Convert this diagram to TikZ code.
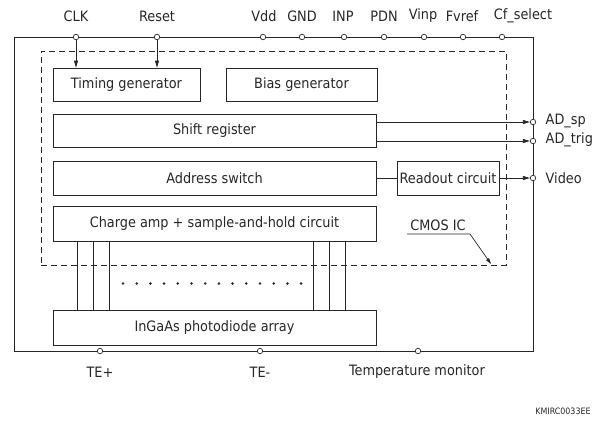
\documentclass[tikz,border=0pt]{standalone}
\usepackage{fontspec}
\setmainfont{DejaVu Sans Condensed}
\usetikzlibrary{arrows.meta,calc}
\begin{document}
\begin{tikzpicture}[x=1pt,y=-1pt,
  line width=0.8pt, color=black!85,
  every node/.style={font=\fontsize{14.3}{16}\selectfont, text=black!85},
  box/.style={draw, line width=0.8pt, inner sep=0pt},
  pin/.style={circle, draw, fill=white, inner sep=0pt, minimum size=5.5pt, line width=0.7pt},
  arr/.style={-{Triangle[length=7pt,width=4pt]}},
  dashbox/.style={draw, dash pattern=on 6pt off 4pt, line width=0.7pt, inner sep=0pt}
]
\useasboundingbox (0,0) rectangle (609,434);
% outer box
\coordinate (otl) at (14,37);
\coordinate (obr) at (533,351);
\draw (otl) rectangle (obr);
% dashed CMOS region
\node[dashbox, minimum width=465pt, minimum height=214pt] (cmos) at (273.5,158) {};
% blocks
\node[box, minimum width=147pt, minimum height=33pt] (tg) at (126.5,84.5) {Timing generator};
\node[box, minimum width=151pt, minimum height=33pt] (bg) at (301.5,84.5) {Bias generator};
\node[box, minimum width=323pt, minimum height=33pt] (sr) at (214.5,130.5) {Shift register};
\node[box, minimum width=323pt, minimum height=34pt] (as) at (214.5,178) {Address switch};
\node[box, minimum width=102pt, minimum height=34pt] (ro) at (448,178) {Readout circuit};
\node[box, minimum width=323pt, minimum height=35pt] (ca) at (214.5,223.5) {Charge amp + sample-and-hold circuit};
\node[box, minimum width=323pt, minimum height=35pt] (pd) at (214.5,327.5) {InGaAs photodiode array};
% top pins
\foreach \n/\x/\lx/\t in {clk/76/76/CLK, rst/157/157/Reset, vdd/263/264/Vdd, gnd/302/302/GND, inp/344/343/INP, pdn/384/384/PDN, vinp/424/423/Vinp, fvref/463/462/Fvref, cfs/502/523/Cf\_select}{
  \node[pin] (p\n) at (\x,37) {};
  \node (l\n) at (\lx,16) {\t};
}
% arrows into timing generator
\draw[arr] (pclk) -- (pclk |- tg.north);
\draw[arr] (prst) -- (prst |- tg.north);
% right pins
\node[pin] (psp) at (533,122) {};
\node[pin] (ptrig) at (533,141) {};
\node[pin] (pvid) at (533,178) {};
\node[anchor=west] (lsp) at (542,121) {AD\_sp};
\node[anchor=west] (ltrig) at (542,140) {AD\_trig};
\node[anchor=west] (lvid) at (542,178) {Video};
\draw[arr] (sr.east |- psp) -- (psp);
\draw[arr] (sr.east |- ptrig) -- (ptrig);
\draw (as.east) -- (ro.west);
\draw[arr] (ro.east) -- (pvid);
% bottom pins
\node[pin] (pte1) at (100,351) {};
\node[pin] (pte2) at (260,351) {};
\node[pin] (ptm) at (418,351) {};
\node (lte1) at (100,372) {TE+};
\node (lte2) at (260,372) {TE-};
\node (ltm) at (417,372) {Temperature monitor};
% connections charge amp -> photodiode array
\foreach \x in {78,94,110,314,330,346}{
  \draw ($(ca.south west)+(\x-53,0)$) -- ($(pd.north west)+(\x-53,0)$);
}
% dots
\foreach \i in {0,...,13}{
  \fill (123+\i*13.7,283.5) circle (1.4pt);
}
% CMOS IC label
\node (lcmos) at (438,225) {CMOS IC};
\coordinate (u1) at (407,234);
\coordinate (u2) at (470,234);
\coordinate (ctip) at (491,264);
\draw[line width=0.7pt, -{Triangle[length=6pt,width=3.5pt]}] (u1) -- (u2) -- (ctip);
% code
\node[font=\fontsize{8.8}{10}\selectfont] (code) at (563,411) {KMIRC0033EE};
\end{tikzpicture}
\end{document}
